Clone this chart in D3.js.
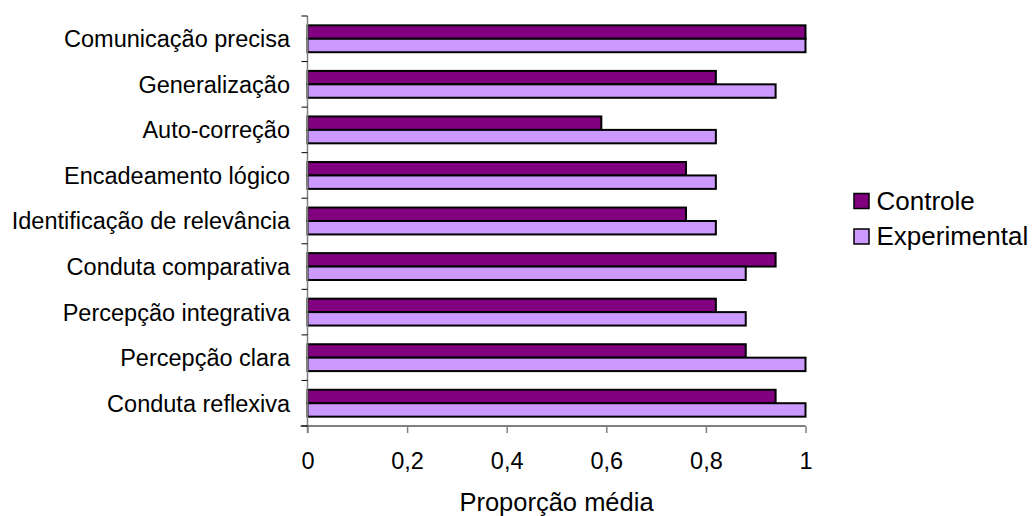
<!DOCTYPE html>
<html>
<head>
<meta charset="utf-8">
<script src="https://cdn.jsdelivr.net/npm/d3@7"></script>
<style>
  html, body { margin: 0; padding: 0; background: #fff; }
  svg text { font-family: "Liberation Sans", Arial, sans-serif; fill: #000; }
</style>
</head>
<body>
<svg id="chart" width="1032" height="516"></svg>
<script>
// Categories, top to bottom
const categories = [
  "Comunicação precisa",
  "Generalização",
  "Auto-correção",
  "Encadeamento lógico",
  "Identificação de relevância",
  "Conduta comparativa",
  "Percepção integrativa",
  "Percepção clara",
  "Conduta reflexiva"
];
const seriesNames = ["Controle", "Experimental"];
const controle =     [1.00, 0.82, 0.59, 0.76, 0.76, 0.94, 0.82, 0.88, 0.94];
const experimental = [1.00, 0.94, 0.82, 0.82, 0.82, 0.88, 0.88, 1.00, 1.00];
const xTicks = [0, 0.2, 0.4, 0.6, 0.8, 1];
const colors = ["#800080", "#CC99FF"];

const svg = d3.select("#chart");
const plotLeft = 307.5, plotRight = 805.5, plotTop = 16, plotBottom = 426;

const x = d3.scaleLinear().domain([0, 1]).range([plotLeft, plotRight]);
const y = d3.scaleBand().domain(categories).range([plotTop, plotBottom]).paddingInner(0.41).paddingOuter(0.205);
const ySub = d3.scaleBand().domain(seriesNames).range([0, y.bandwidth()]);

const rows = categories.map((c, i) => ({ cat: c, vals: [controle[i], experimental[i]] }));

// Bars
const g = svg.append("g");
rows.forEach(r => {
  r.vals.forEach((v, j) => {
    g.append("rect")
      .attr("x", x(0))
      .attr("y", y(r.cat) + ySub(seriesNames[j]))
      .attr("width", x(v) - x(0))
      .attr("height", ySub.bandwidth())
      .attr("fill", colors[j])
      .attr("stroke", "#000")
      .attr("stroke-width", 2);
  });
});

// Y axis: line with ticks at category boundaries
const yAxis = svg.append("g");
yAxis.append("line").attr("x1", plotLeft).attr("x2", plotLeft).attr("y1", plotTop).attr("y2", plotBottom + 7)
  .attr("stroke", "#808080").attr("stroke-width", 1.5);
const step = (plotBottom - plotTop) / categories.length;
d3.range(categories.length + 1).forEach(i => {
  yAxis.append("line").attr("x1", plotLeft - 6).attr("x2", plotLeft).attr("y1", plotTop + i * step).attr("y2", plotTop + i * step)
    .attr("stroke", "#000").attr("stroke-width", 1);
});
categories.forEach(c => {
  yAxis.append("text")
    .attr("x", 290)
    .attr("y", y(c) + y.bandwidth() / 2)
    .attr("dy", "0.36em")
    .attr("text-anchor", "end")
    .attr("font-size", 23.5)
    .text(c);
});

// X axis
const xAxis = svg.append("g").attr("transform", `translate(0,${plotBottom})`)
  .call(d3.axisBottom(x).tickValues(xTicks).tickSize(7).tickPadding(19)
    .tickFormat(d => d3.format("~g")(d).replace(".", ",")));
xAxis.select(".domain").attr("stroke", "#000").attr("d", `M${plotLeft - 7},0H${plotRight}`);
xAxis.selectAll(".tick line").attr("stroke", "#808080").attr("stroke-width", 1.5);
xAxis.selectAll(".tick text").attr("font-size", 23.5).attr("font-family", "Liberation Sans, Arial, sans-serif").attr("fill", "#000");

svg.append("text")
  .attr("x", (plotLeft + plotRight) / 2)
  .attr("y", 511)
  .attr("text-anchor", "middle")
  .attr("font-size", 25.5)
  .text("Proporção média");

// Legend
const legend = svg.append("g");
seriesNames.forEach((s, i) => {
  const cy = 201 + i * 35.5;
  legend.append("rect").attr("x", 854).attr("y", cy - 7.5).attr("width", 15).attr("height", 15)
    .attr("fill", colors[i]).attr("stroke", "#000").attr("stroke-width", 1.5);
  legend.append("text").attr("x", 876.5).attr("y", cy + 8.7).attr("font-size", 26).text(s);
});
</script>
</body>
</html>
